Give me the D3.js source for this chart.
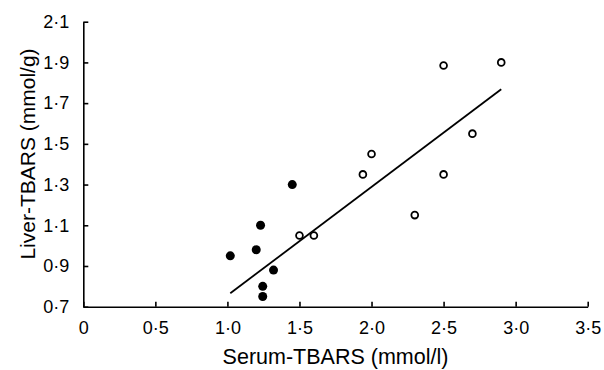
<!DOCTYPE html>
<html><head><meta charset="utf-8">
<script src="https://cdn.jsdelivr.net/npm/d3@7"></script>
<style>body{margin:0;background:#fff}svg{display:block}text{font-family:"Liberation Sans",Arial,sans-serif;fill:#000}</style>
</head><body><svg id="c" width="604" height="370"></svg>
<script>
// Filled circles
const filledX = [1.02, 1.20, 1.23, 1.45, 1.32, 1.245, 1.245];
const filledY = [0.95, 0.98, 1.10, 1.30, 0.88, 0.80, 0.75];
// Open circles
const openX = [1.50, 1.60, 1.94, 2.00, 2.50, 2.90, 2.70, 2.50, 2.30];
const openY = [1.05, 1.05, 1.35, 1.45, 1.885, 1.90, 1.55, 1.35, 1.15];
// Fitted line end points
const lineX = [1.02, 2.90];
const lineY = [0.766, 1.768];
const xTicks = [0, 0.5, 1.0, 1.5, 2.0, 2.5, 3.0, 3.5];
const yTicks = [0.7, 0.9, 1.1, 1.3, 1.5, 1.7, 1.9, 2.1];
const xTitle = "Serum-TBARS (mmol/l)";
const yTitle = "Liver-TBARS (mmol/g)";

const svg = d3.select("#c");
const x = d3.scaleLinear().domain([0, 3.5]).range([83.3, 587.7]);
const y = d3.scaleLinear().domain([0.7, 2.1]).range([306.7, 21.7]);
const fmt = v => (v === 0 ? "0" : d3.format(".1f")(v)).replace(".", "\u00B7");

const gx = svg.append("g").attr("transform", `translate(0,${y(0.7)})`)
  .call(d3.axisBottom(x).tickValues(xTicks).tickFormat(fmt).tickSizeInner(-5).tickSizeOuter(0).tickPadding(15));
const gy = svg.append("g").attr("transform", `translate(${x(0)},0)`)
  .call(d3.axisLeft(y).tickValues(yTicks).tickFormat(fmt).tickSizeInner(-5).tickSizeOuter(0).tickPadding(14));
[gx, gy].forEach(g => {
  g.selectAll("path,line").attr("stroke", "#000").attr("stroke-width", 1.6);
  g.selectAll("text").attr("font-size", 18).attr("font-family", "Liberation Sans, Arial, sans-serif").attr("fill", "#000");
});

svg.append("text").attr("x", (x(0) + x(3.5)) / 2).attr("y", 364).attr("text-anchor", "middle")
  .attr("font-size", 21.5).text(xTitle);
svg.append("text").attr("transform", `translate(35,154) rotate(-90)`)
  .attr("text-anchor", "middle").attr("font-size", 21).text(yTitle);

svg.append("line").attr("x1", x(lineX[0])).attr("y1", y(lineY[0]))
  .attr("x2", x(lineX[1])).attr("y2", y(lineY[1])).attr("stroke", "#000").attr("stroke-width", 1.8);

svg.selectAll("circle.f").data(d3.range(filledX.length)).join("circle").attr("class", "f")
  .attr("cx", i => x(filledX[i])).attr("cy", i => y(filledY[i])).attr("r", 4.5).attr("fill", "#000");
svg.selectAll("circle.o").data(d3.range(openX.length)).join("circle").attr("class", "o")
  .attr("cx", i => x(openX[i])).attr("cy", i => y(openY[i])).attr("r", 3.4)
  .attr("fill", "#fff").attr("stroke", "#000").attr("stroke-width", 1.8);
</script></body></html>
